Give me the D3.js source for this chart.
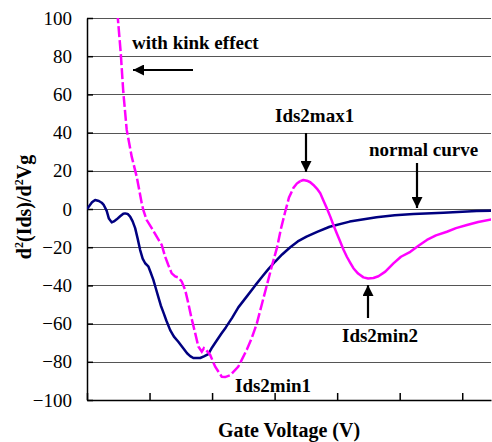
<!DOCTYPE html>
<html>
<head>
<meta charset="utf-8">
<script src="https://cdn.jsdelivr.net/npm/d3@7"></script>
<style>
  body { margin: 0; background: #fff; }
</style>
</head>
<body>
<div id="chart"></div>
<script>
// normal curve (navy)
const normalVg = [0.00, 0.08, 0.13, 0.19, 0.235, 0.27, 0.315, 0.35, 0.395, 0.43, 0.475, 0.53, 0.58, 0.61, 0.65, 0.69, 0.73, 0.77, 0.81, 0.85, 0.89, 0.93, 0.98, 1.015, 1.06, 1.10, 1.14, 1.18, 1.22, 1.27, 1.33, 1.39, 1.46, 1.53, 1.60, 1.65, 1.70, 1.81, 1.87, 1.94, 2.00, 2.08, 2.15, 2.22, 2.32, 2.42, 2.55, 2.69, 2.80, 2.90, 3.01, 3.12, 3.25, 3.37, 3.51, 3.68, 3.88, 4.20, 4.63, 4.92, 5.22, 5.70, 6.23, 6.47];
const normalD2 = [0, 3.5, 4.7, 4.2, 3.3, 2, -1, -5, -7, -6.5, -5.4, -3.8, -2.5, -2.3, -2.6, -4, -6.5, -10, -15.5, -21.5, -26, -28.4, -30, -33, -37, -41.5, -46, -50.5, -54, -58.5, -63.4, -66.8, -69.5, -72.5, -75.5, -77, -78, -78, -77.2, -76, -72.5, -68.6, -65.2, -62, -57, -51.5, -46, -40, -35.5, -31.5, -27.5, -23.8, -20, -17, -14.5, -12, -9.3, -6.6, -4.3, -3.3, -2.6, -1.9, -1.0, -0.9];

// with kink effect (magenta)
const kinkVg = [0.485, 0.54, 0.58, 0.635, 0.715, 0.795, 0.875, 0.90, 0.955, 1.035, 1.115, 1.195, 1.25, 1.30, 1.355, 1.41, 1.46, 1.515, 1.57, 1.62, 1.67, 1.73, 1.78, 1.835, 1.87, 1.905, 1.97, 2.05, 2.155, 2.21, 2.29, 2.42, 2.555, 2.635, 2.715, 2.795, 2.875, 2.955, 3.04, 3.10, 3.165, 3.23, 3.30, 3.355, 3.41, 3.46, 3.515, 3.57, 3.62, 3.675, 3.73, 3.78, 3.835, 3.89, 3.94, 3.995, 4.05, 4.10, 4.155, 4.21, 4.26, 4.335, 4.42, 4.495, 4.58, 4.66, 4.77, 4.90, 5.02, 5.17, 5.30, 5.435, 5.58, 5.755, 5.90, 6.075, 6.255, 6.47];
const kinkD2 = [103, 81.5, 61.4, 41.4, 27.4, 16.9, 3, -0.5, -5.8, -10, -14.5, -18.8, -25, -29.3, -33.7, -35.3, -35.8, -38, -42.4, -49.4, -57, -65, -72, -74.7, -72.8, -73.8, -76.4, -82.6, -87.8, -88, -87, -82.5, -73.7, -67.5, -60, -50, -40, -30, -20, -10.5, -2, 6, 11, 13.3, 14.6, 15.2, 14.8, 14, 12.6, 10.7, 8.2, 4.5, 0.4, -4, -8.4, -12.8, -17.1, -21.2, -25, -28.2, -31, -33.8, -35.8, -36.4, -36.1, -35.2, -32.8, -28.5, -25, -22.4, -19.2, -16.2, -13.8, -11.9, -10, -8.4, -6.8, -5.4];

const yTicks = [-100, -80, -60, -40, -20, 0, 20, 40, 60, 80, 100];
const xTicks = [0, 1, 2, 3, 4, 5, 6];

const w = 492;
const h = 442;
const pLeft = 87, pTop = 18, pRight = 491, pBottom = 400;
const fontName = "'Liberation Serif'";

let svg = d3.select('#chart').append('svg')
            .attr('width', w)
            .attr('height', h)
            .style('display', 'block');

let xScale = d3.scaleLinear().domain([0, 6.46]).range([pLeft, pRight]);
let yScale = d3.scaleLinear().domain([-100, 100]).range([pBottom, pTop]);

svg.append('clipPath').attr('id', 'plot-area')
   .append('rect')
   .attr('x', pLeft).attr('y', pTop)
   .attr('width', pRight - pLeft).attr('height', pBottom - pTop);

// gridlines
svg.append('g').selectAll('line').data(yTicks.filter(d => d > -100)).enter().append('line')
   .attr('x1', pLeft).attr('x2', pRight)
   .attr('y1', d => Math.round(yScale(d)) + 0.5).attr('y2', d => Math.round(yScale(d)) + 0.5)
   .attr('stroke', '#555').attr('stroke-width', 1);

let xAxis = d3.axisBottom(xScale).tickValues(xTicks).tickFormat('').tickSizeInner(-7).tickSizeOuter(0);
let yAxis = d3.axisLeft(yScale).tickValues(yTicks).tickSizeInner(-6).tickSizeOuter(0).tickPadding(15);

svg.append('g')
   .attr('transform', 'translate(0,' + pBottom + ')')
   .call(xAxis)
   .call(g => g.selectAll('path, line').attr('stroke', '#000').attr('stroke-width', 1.5));

svg.append('g')
   .attr('transform', 'translate(' + pLeft + ',0)')
   .call(yAxis)
   .attr('font-family', null)
   .call(g => g.selectAll('path, line').attr('stroke', '#000').attr('stroke-width', 1.5))
   .call(g => g.selectAll('text').attr('font-size', 19).attr('fill', '#000')
              .style('font-family', fontName));

// curves
let line = d3.line().x(d => xScale(d[0])).y(d => yScale(d[1]));
let normalPts = normalVg.map((v, i) => [v, normalD2[i]]);
let kinkPts = kinkVg.map((v, i) => [v, kinkD2[i]]);
const solidFrom = 3.41;

let curves = svg.append('g').attr('clip-path', 'url(#plot-area)');

curves.append('path').datum(normalPts)
      .attr('d', line).attr('fill', 'none')
      .attr('stroke', '#000080').attr('stroke-width', 2.5).attr('stroke-linejoin', 'round');

curves.append('path').datum(kinkPts.filter(p => p[0] <= solidFrom))
      .attr('d', line).attr('fill', 'none')
      .attr('stroke', '#ff00ff').attr('stroke-width', 2.5)
      .attr('stroke-dasharray', '11,3');

curves.append('path').datum(kinkPts.filter(p => p[0] >= solidFrom))
      .attr('d', line).attr('fill', 'none')
      .attr('stroke', '#ff00ff').attr('stroke-width', 2.5).attr('stroke-linejoin', 'round');

// axis titles
let ylab = svg.append('text')
   .attr('text-anchor', 'middle')
   .attr('transform', 'translate(31,207)rotate(-90)')
   .attr('font-size', 20).attr('font-weight', 'bold')
   .style('font-family', fontName);
ylab.append('tspan').text('d');
ylab.append('tspan').text('2').attr('font-size', 12).attr('dy', -8);
ylab.append('tspan').text('(Ids)/d').attr('dy', 8);
ylab.append('tspan').text('2').attr('font-size', 12).attr('dy', -8);
ylab.append('tspan').text('Vg').attr('dy', 8);

svg.append('text')
   .attr('text-anchor', 'middle')
   .attr('x', 289).attr('y', 437)
   .attr('font-size', 20).attr('font-weight', 'bold')
   .style('font-family', fontName)
   .text('Gate Voltage (V)');

// annotations
svg.append('defs').append('marker')
   .attr('id', 'head').attr('viewBox', '0 0 10 10')
   .attr('refX', 10).attr('refY', 5)
   .attr('markerWidth', 5).attr('markerHeight', 5)
   .attr('markerUnits', 'strokeWidth')
   .attr('orient', 'auto')
   .append('path').attr('d', 'M0,0L10,5L0,10Z').attr('fill', '#000');

const notes = [
  {t: 'with kink effect', x: 132, y: 49},
  {t: 'Ids2max1', x: 275, y: 122},
  {t: 'normal curve', x: 369, y: 156},
  {t: 'Ids2min2', x: 342, y: 342},
  {t: 'Ids2min1', x: 235, y: 392}
];
svg.append('g').selectAll('text').data(notes).enter().append('text')
   .attr('x', d => d.x).attr('y', d => d.y)
   .attr('font-size', 19).attr('font-weight', 'bold')
   .style('font-family', fontName)
   .text(d => d.t);

const arrows = [
  [193, 70, 133, 70],
  [306, 133, 306, 172],
  [417, 163, 417, 208],
  [368, 318, 368, 285]
];
svg.append('g').selectAll('line').data(arrows).enter().append('line')
   .attr('x1', d => d[0]).attr('y1', d => d[1])
   .attr('x2', d => d[2]).attr('y2', d => d[3])
   .attr('stroke', '#000').attr('stroke-width', 2.2)
   .attr('marker-end', 'url(#head)');
</script>
</body>
</html>
